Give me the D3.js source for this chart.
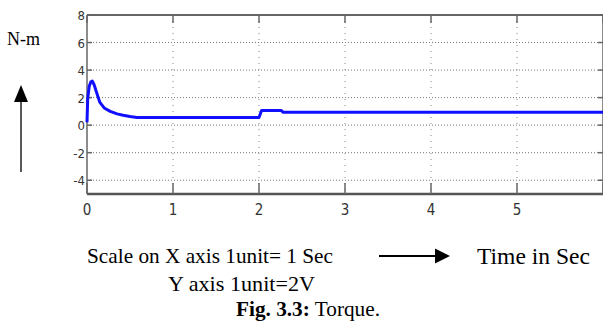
<!DOCTYPE html>
<html>
<head>
<meta charset="utf-8">
<script src="https://cdn.jsdelivr.net/npm/d3@7.9.0/dist/d3.min.js"></script>
<style>
  body { margin: 0; background: #fff; }
  svg { display: block; }
  .tick-label { font-family: 'DejaVu Sans Condensed', 'DejaVu Sans', sans-serif; fill: #333; }
  .caption { font-family: 'Liberation Serif', 'Times New Roman', serif; fill: #000; }
</style>
</head>
<body>
<svg id="chart" width="603" height="323"></svg>
<script>
// torque response
const time = [0, 0.008, 0.025, 0.045, 0.062, 0.085, 0.11, 0.15, 0.2, 0.27, 0.35, 0.42, 0.5, 0.58, 2.0, 2.03, 2.26, 2.28, 6];
const torque = [0.2, 1.9, 2.8, 3.15, 3.2, 2.9, 2.4, 1.65, 1.25, 1.0, 0.82, 0.72, 0.63, 0.56, 0.56, 1.07, 1.07, 0.93, 0.93];

const xTicks = [0, 1, 2, 3, 4, 5, 6];
const xTickLabels = [0, 1, 2, 3, 4, 5]; // the 6 falls outside the cropped figure
const yTicks = [-4, -2, 0, 2, 4, 6, 8];

const svg = d3.select('#chart');

const x = d3.scaleLinear().domain([0, 6]).range([87, 603]);
const y = d3.scaleLinear().domain([-5, 8]).range([194, 15]);

// grid
const grid = svg.append('g');
grid.selectAll('.vg')
  .data(xTicks.filter(d => d > 0 && d < 6))
  .enter().append('line')
  .attr('x1', d => x(d)).attr('x2', d => x(d))
  .attr('y1', y(8)).attr('y2', y(-5))
  .attr('stroke', '#888').attr('stroke-width', 1)
  .attr('stroke-dasharray', '1,5');
grid.selectAll('.hg')
  .data(yTicks.filter(d => d < 8))
  .enter().append('line')
  .attr('x1', x(0)).attr('x2', x(6))
  .attr('y1', d => y(d)).attr('y2', d => y(d))
  .attr('stroke', '#777').attr('stroke-width', 1)
  .attr('stroke-dasharray', '1,2');

// box
const frame = svg.append('g').attr('stroke', '#666').attr('fill', 'none');
frame.append('line').attr('x1', x(0)).attr('x2', x(6)).attr('y1', y(8)).attr('y2', y(8)).attr('stroke-width', 2);
frame.append('line').attr('x1', x(0)).attr('x2', x(6)).attr('y1', y(-5)).attr('y2', y(-5)).attr('stroke-width', 2.5).attr('stroke', '#555');
frame.append('line').attr('x1', x(0)).attr('x2', x(0)).attr('y1', y(8)).attr('y2', y(-5)).attr('stroke-width', 1.5);
frame.append('line').attr('x1', x(6)).attr('x2', x(6)).attr('y1', y(8)).attr('y2', y(-5)).attr('stroke-width', 1.5);

// tick marks
xTicks.forEach(d => {
  frame.append('line').attr('x1', x(d)).attr('x2', x(d)).attr('y1', y(8)).attr('y2', y(8) + 8).attr('stroke-width', 1.5);
  frame.append('line').attr('x1', x(d)).attr('x2', x(d)).attr('y1', y(-5)).attr('y2', y(-5) - 11).attr('stroke-width', 1.5);
});
yTicks.forEach(d => {
  frame.append('line').attr('x1', x(0)).attr('x2', x(0) + 5).attr('y1', y(d)).attr('y2', y(d)).attr('stroke-width', 1.5);
  frame.append('line').attr('x1', x(6)).attr('x2', x(6) - 5).attr('y1', y(d)).attr('y2', y(d)).attr('stroke-width', 1.5);
});

// tick labels
svg.selectAll('.xl')
  .data(xTickLabels)
  .enter().append('text')
  .attr('class', 'tick-label')
  .attr('x', d => x(d)).attr('y', 215)
  .attr('text-anchor', 'middle')
  .attr('font-size', 15)
  .text(d => d);
svg.selectAll('.yl')
  .data(yTicks)
  .enter().append('text')
  .attr('class', 'tick-label')
  .attr('x', x(0) - 2).attr('y', d => y(d) + 5)
  .attr('text-anchor', 'end')
  .attr('font-size', 13)
  .text(d => d);

// curve
const line = d3.line().x((d, i) => x(time[i])).y(d => y(d));
svg.append('path')
  .datum(torque)
  .attr('d', line)
  .attr('fill', 'none')
  .attr('stroke', '#1010ff')
  .attr('stroke-width', 3)
  .attr('stroke-linejoin', 'round');

// y unit label and arrow
svg.append('text').attr('class', 'caption').attr('x', 7).attr('y', 45).attr('font-size', 18).text('N-m');
svg.append('line')
  .attr('x1', 21).attr('y1', 172).attr('x2', 21).attr('y2', 92)
  .attr('stroke', '#222').attr('stroke-width', 1.5);
svg.append('path').attr('d', 'M21,85 L14,102 L28,102 Z').attr('fill', '#000');

// caption block
svg.append('text').attr('class', 'caption').attr('x', 87).attr('y', 263)
  .attr('font-size', 22)
  .attr('textLength', 246).attr('lengthAdjust', 'spacingAndGlyphs')
  .text('Scale on X axis 1unit= 1 Sec');
svg.append('text').attr('class', 'caption').attr('x', 168).attr('y', 291)
  .attr('font-size', 22)
  .attr('textLength', 147).attr('lengthAdjust', 'spacingAndGlyphs')
  .text('Y axis 1unit=2V');
const fig = svg.append('text').attr('class', 'caption').attr('x', 236).attr('y', 316)
  .attr('font-size', 20)
  .attr('textLength', 144).attr('lengthAdjust', 'spacingAndGlyphs');
fig.append('tspan').attr('font-weight', 'bold').text('Fig. 3.3:');
fig.append('tspan').text(' Torque.');

svg.append('line').attr('x1', 379).attr('y1', 256).attr('x2', 437).attr('y2', 256)
  .attr('stroke', '#000').attr('stroke-width', 2);
svg.append('path').attr('d', 'M450,256 L435,248.5 L435,263.5 Z').attr('fill', '#000');

svg.append('text').attr('class', 'caption').attr('x', 477).attr('y', 264)
  .attr('font-size', 23)
  .attr('textLength', 113).attr('lengthAdjust', 'spacingAndGlyphs')
  .text('Time in Sec');
</script>
</body>
</html>
